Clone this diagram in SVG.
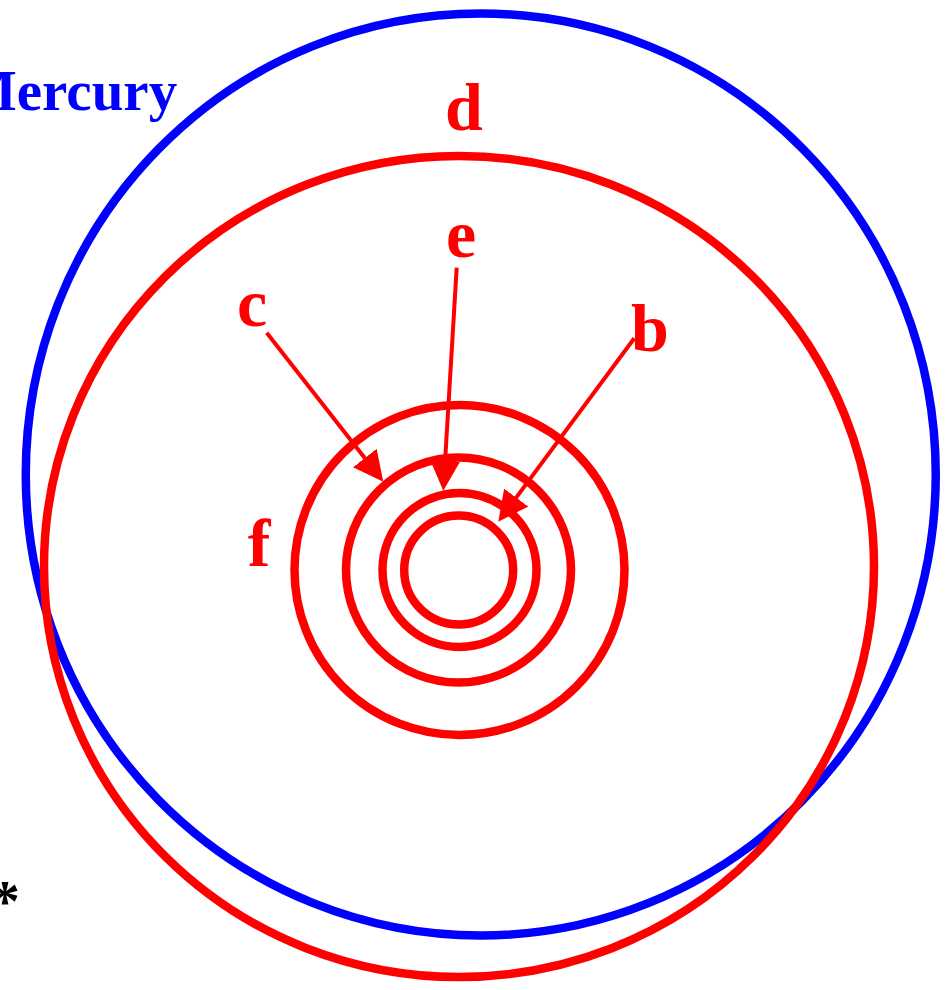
<svg xmlns="http://www.w3.org/2000/svg" width="946" height="990" viewBox="0 0 946 990">
<style>
.orbit{fill:none;stroke:#ff0000;stroke-width:8.5}
.blue{fill:none;stroke:#0000ff;stroke-width:8.5}
.lbl{font-family:"Liberation Serif","Times New Roman",serif;font-weight:bold;fill:#ff0000;text-anchor:middle}
.conn{stroke:#ff0000;stroke-width:4;fill:none}
</style>
<defs>
<marker id="ah" markerUnits="userSpaceOnUse" markerWidth="30" markerHeight="30" refX="5" refY="15" orient="auto" viewBox="0 0 30 30">
<path d="M0,0 L30,15 L0,30 Z" fill="#ff0000"/>
</marker>
</defs>
<rect width="946" height="990" fill="#ffffff"/>
<g id="mercury">
<ellipse class="blue" cx="480.75" cy="474.5" rx="455" ry="461"/>
<text x="-37" y="110" font-family="'Liberation Serif','Times New Roman',serif" font-weight="bold" font-size="57" fill="#0000ff">Mercury</text>
</g>
<g id="d">
<ellipse class="orbit" cx="459" cy="566.5" rx="415" ry="410.5"/>
<text class="lbl" x="464" y="130" font-size="68">d</text>
</g>
<g id="f">
<circle class="orbit" cx="459.5" cy="570" r="165"/>
<text class="lbl" x="259" y="566" font-size="68">f</text>
</g>
<g id="c">
<circle class="orbit" cx="458.5" cy="570" r="112.5"/>
<text class="lbl" x="252" y="326" font-size="68">c</text>
</g>
<g id="e">
<circle class="orbit" cx="459.5" cy="570" r="77"/>
<text class="lbl" x="461" y="257" font-size="68">e</text>
</g>
<g id="b">
<circle class="orbit" cx="458.7" cy="570" r="54.5"/>
<text class="lbl" x="650" y="351" font-size="68">b</text>
</g>
<g id="star">
<text x="-10" y="921" font-family="'Liberation Serif','Times New Roman',serif" font-weight="bold" font-size="60" fill="#000000">*</text>
</g>
<g id="connectors">
<line class="conn" x1="266.7" y1="332.7" x2="367.9" y2="462" marker-end="url(#ah)"/>
<line class="conn" x1="456.7" y1="267.7" x2="444.8" y2="465.75" marker-end="url(#ah)"/>
<line class="conn" x1="634.3" y1="338.3" x2="513.2" y2="501.6" marker-end="url(#ah)"/>
</g>
</svg>
